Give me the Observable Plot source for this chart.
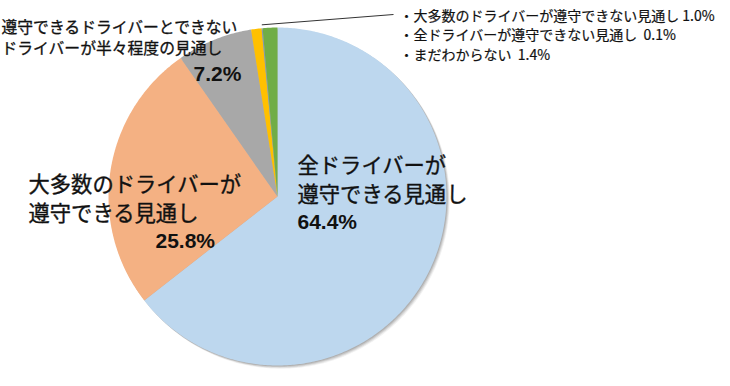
<!DOCTYPE html>
<html><head><meta charset="utf-8">
<script src="https://cdn.jsdelivr.net/npm/d3@7"></script>
<script src="https://cdn.jsdelivr.net/npm/@observablehq/plot@0.6"></script>
<style>
html,body{margin:0;padding:0;background:#fff;}
</style>
</head><body><div id="chart"></div>
<script>
// ---- data ----
const categories = [
  "全ドライバーが遵守できる見通し",
  "大多数のドライバーが遵守できる見通し",
  "遵守できるドライバーとできないドライバーが半々程度の見通し",
  "大多数のドライバーが遵守できない見通し",
  "全ドライバーが遵守できない見通し",
  "まだわからない"
];
const shares = [64.4, 25.8, 7.2, 1.0, 0.1, 1.4];
const sliceColors = ["#BDD7EE", "#F4B183", "#A8A8A8", "#FFC000", "#8497B0", "#70AD47"];

const bigLabels = [
  "全ドライバーが\n遵守できる見通し",
  "大多数のドライバーが\n遵守できる見通し",
  "遵守できるドライバーとできない\nドライバーが半々程度の見通し"
];
const pctLabels = ["64.4%", "25.8%", "7.2%"];
const legendLines = [
  "・大多数のドライバーが遵守できない見通し 1.0%",
  "・全ドライバーが遵守できない見通し  0.1%",
  "・まだわからない  1.4%"
];

// ---- layout (pixels) ----
const W = 730, H = 386;
const cx = 277, cy = 196, R = 169;
const px = v => (v - cx) / R;      // pixel x -> unit
const py = v => (cy - v) / R;      // pixel y -> unit

// ---- build slice polygons from shares ----
const total = d3.sum(shares);
const polys = [];
let cum = 0;
shares.forEach((s, i) => {
  const a0 = cum / total * 2 * Math.PI;
  cum += s;
  const a1 = cum / total * 2 * Math.PI;
  const n = Math.max(2, Math.ceil((a1 - a0) / 0.01));
  polys.push({k: categories[i], x: 0, y: 0});
  for (let j = 0; j <= n; j++) {
    const a = a0 + (a1 - a0) * j / n;
    polys.push({k: categories[i], x: Math.sin(a), y: Math.cos(a)});
  }
  polys.push({k: categories[i], x: 0, y: 0});
});

// soft drop shadow rings behind the pie
const shadow = [];
[[3.2, 0.10], [2.4, 0.16], [1.6, 0.22], [0.8, 0.28]].forEach(([o, a], r) => {
  for (let j = 0; j <= 360; j++) {
    const t = j / 360 * 2 * Math.PI;
    shadow.push({r, a, x: Math.sin(t) + o / R, y: Math.cos(t) - o / R});
  }
});

// leader anchor: middle of the 0.1% slice
const startSmall = (shares[0] + shares[1] + shares[2] + shares[3]) / total * 2 * Math.PI;
const endSmall = (shares[0] + shares[1] + shares[2] + shares[3] + shares[4]) / total * 2 * Math.PI;
const am = (startSmall + endSmall) / 2;
const leader = [{x1: Math.sin(am) * 1.02, y1: Math.cos(am) * 1.02, x2: px(393), y2: py(14)}];

const jp = "'Noto Sans CJK JP', sans-serif";
const num = "Arial, 'Liberation Sans', sans-serif";

const bigText = [
  {t: bigLabels[0], x: px(297), y: py(178)},
  {t: bigLabels[1], x: px(28), y: py(197)},
  {t: bigLabels[2], x: px(1), y: py(36)}
];
const pctText = [
  {t: pctLabels[0], x: px(297), y: py(222)},
  {t: pctLabels[1], x: px(155), y: py(241)},
  {t: pctLabels[2], x: px(193), y: py(74)}
];

const chart = Plot.plot({
  width: W, height: H,
  margin: 0,
  x: {domain: [-1, 1], range: [cx - R, cx + R], axis: null},
  y: {domain: [-1, 1], range: [cy + R, cy - R], axis: null},
  color: {domain: categories, range: sliceColors},
  marks: [
    Plot.line(shadow, {x: "x", y: "y", z: "r", fill: "#777", fillOpacity: "a", stroke: "none"}),
    Plot.line(polys, {x: "x", y: "y", z: "k", fill: "k", stroke: "none", curve: "linear"}),
    Plot.link(leader, {x1: "x1", y1: "y1", x2: "x2", y2: "y2", stroke: "#333", strokeWidth: 1}),
    Plot.text(bigText.slice(0, 2), {x: "x", y: "y", text: "t", textAnchor: "start", fontSize: 21.3, lineHeight: 1.33, fontFamily: jp, fill: "#111", stroke: "#111", strokeWidth: 0.35}),
    Plot.text(bigText.slice(2), {x: "x", y: "y", text: "t", textAnchor: "start", fontSize: 15.8, lineHeight: 1.36, fontFamily: jp, fill: "#111", stroke: "#111", strokeWidth: 0.3}),
    Plot.text(pctText, {x: "x", y: "y", text: "t", textAnchor: "start", fontSize: 21, fontWeight: "bold", fontFamily: num, fill: "#111"}),
    Plot.text([legendLines.join("\n")], {x: px(399), y: py(33.5), text: d => d, textAnchor: "start", fontSize: 14, lineHeight: 1.38, fontFamily: jp, fill: "#111", stroke: "#111", strokeWidth: 0.2})
  ]
});
document.getElementById("chart").appendChild(chart);
</script>
</body></html>
